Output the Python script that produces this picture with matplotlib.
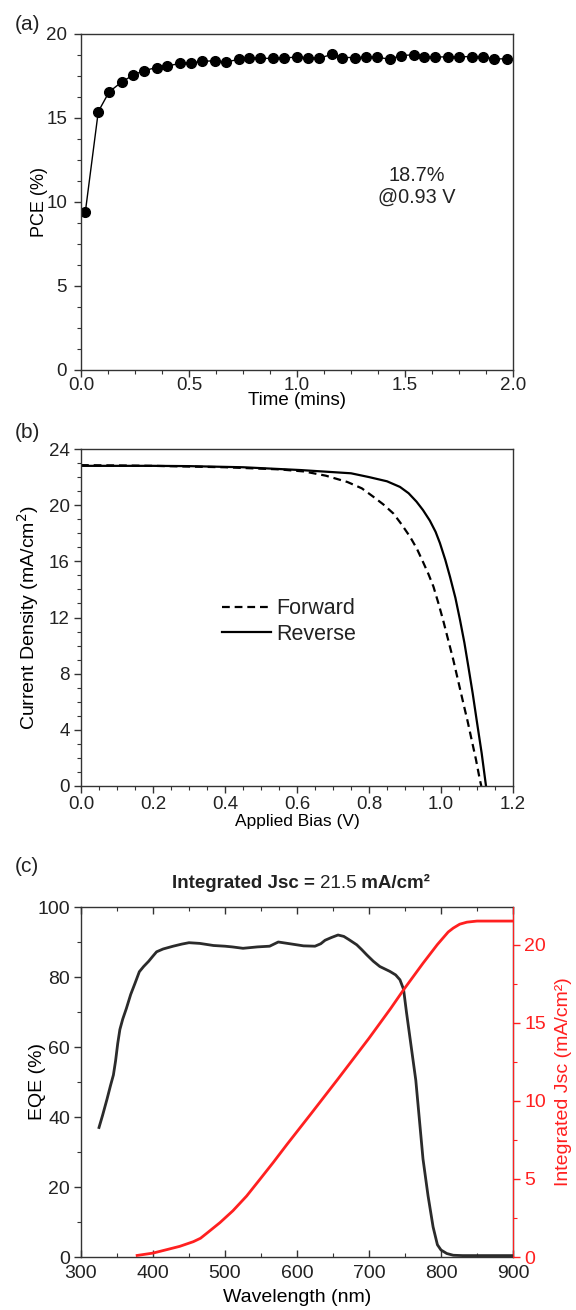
import matplotlib
matplotlib.use("Agg")
import matplotlib.pyplot as plt
from matplotlib.ticker import MultipleLocator
from matplotlib.offsetbox import TextArea, HPacker, AnchoredOffsetbox

plt.rcParams['font.family'] = ['Liberation Sans', 'DejaVu Sans']

# ---------------- data (a) ----------------
time_min = [0.02, 0.08, 0.13, 0.19, 0.24, 0.29, 0.35, 0.40, 0.46, 0.51,
            0.56, 0.62, 0.67, 0.73, 0.78, 0.83, 0.89, 0.94, 1.00, 1.05,
            1.10, 1.16, 1.21, 1.27, 1.32, 1.37, 1.43, 1.48, 1.54, 1.59,
            1.64, 1.70, 1.75, 1.81, 1.86, 1.91, 1.97]
pce = [9.4, 15.38, 16.55, 17.16, 17.54, 17.82, 18.0, 18.1, 18.25, 18.29,
       18.37, 18.41, 18.33, 18.49, 18.59, 18.55, 18.55, 18.57, 18.63, 18.6,
       18.55, 18.78, 18.6, 18.6, 18.62, 18.62, 18.5, 18.72, 18.76, 18.62,
       18.63, 18.64, 18.64, 18.66, 18.66, 18.52, 18.52]

# ---------------- data (b) ----------------
v_rev = [0.0, 0.1, 0.2, 0.3, 0.45, 0.61, 0.75, 0.80, 0.85, 0.886, 0.91,
         0.932, 0.95, 0.969, 0.985, 0.997, 1.012, 1.025, 1.04, 1.053, 1.065,
         1.076, 1.088, 1.099, 1.113, 1.125]
j_rev = [22.8, 22.8, 22.8, 22.78, 22.7, 22.5, 22.27, 22.0, 21.7, 21.3, 20.85,
         20.25, 19.65, 18.9, 18.1, 17.3, 16.1, 14.9, 13.4, 11.8, 10.2,
         8.5, 6.6, 4.7, 2.33, 0.0]
v_fwd = [0.0, 0.1, 0.2, 0.3, 0.4, 0.55, 0.62, 0.68, 0.74, 0.78, 0.812,
         0.84, 0.868, 0.89, 0.914, 0.933, 0.951, 0.965, 0.979, 0.993, 1.006,
         1.02, 1.034, 1.048, 1.062, 1.074, 1.085, 1.097, 1.108, 1.112]
j_fwd = [22.85, 22.83, 22.8, 22.75, 22.7, 22.55, 22.4, 22.1, 21.65, 21.2,
         20.6, 20.05, 19.4, 18.65, 17.75, 16.9, 15.9, 15.1, 14.2, 13.0,
         11.8, 10.4, 9.0, 7.45, 5.9, 4.6, 3.3, 1.9, 0.43, 0.0]

# ---------------- data (c) ----------------
wl_eqe = [325, 330, 336, 341, 345, 348, 351, 354, 358, 363, 369, 375, 381,
          387, 394, 400, 405, 414, 428, 440, 450, 465, 484, 500, 510, 525,
          545, 562, 574, 590, 609, 625, 633, 639, 648, 657, 665, 672, 683,
          690, 697, 706, 715, 729, 737, 743, 748, 752, 756, 760, 765, 771,
          775, 782, 789, 795, 800, 808, 817, 830, 900]
eqe = [37.0, 40.5, 45.0, 49.0, 52.0, 56.0, 61.0, 65.0, 68.0, 71.0, 75.0,
       78.2, 81.5, 83.0, 84.5, 86.0, 87.2, 88.0, 88.8, 89.4, 89.8, 89.6,
       89.0, 88.8, 88.6, 88.2, 88.6, 88.8, 90.0, 89.5, 88.9, 88.8, 89.5,
       90.5, 91.3, 92.0, 91.6, 90.7, 89.2, 87.8, 86.3, 84.5, 83.0, 81.6,
       80.6, 79.2, 76.5, 70.0, 64.0, 58.0, 50.5, 37.0, 28.0, 17.5, 8.6,
       3.5, 2.0, 1.0, 0.5, 0.4, 0.4]
wl_jsc = [378, 400, 419, 437, 456, 466, 475, 493, 511, 530, 549, 567, 586,
          620, 657, 700, 730, 748, 775, 795, 810, 817, 826, 836, 850, 900]
jsc_int = [0.1, 0.25, 0.47, 0.68, 0.98, 1.2, 1.53, 2.2, 2.96, 3.9, 5.0,
           6.05, 7.2, 9.2, 11.4, 14.0, 15.9, 17.1, 18.8, 20.0, 20.8, 21.05,
           21.3, 21.43, 21.5, 21.5]

W, H = 576, 1310
fig = plt.figure(figsize=(W / 100, H / 100), dpi=100)

def rect(l, t, r, b):
    return [l / W, 1 - b / H, (r - l) / W, (b - t) / H]

SPC = '#333333'
TXT = '#222222'
TFS = 13.5

def style(ax, ypad=3, xpad=2):
    for s in ax.spines.values():
        s.set_color(SPC)
        s.set_linewidth(1.0)
    ax.tick_params(which='both', direction='out', colors=SPC, labelcolor=TXT,
                   labelsize=TFS, top=False, right=False)
    ax.tick_params(axis='y', pad=ypad)
    ax.tick_params(axis='x', pad=xpad)
    ax.tick_params(which='major', length=5, width=1)
    ax.tick_params(which='minor', length=3, width=0.8)

# ---------------- panel (a) ----------------
axa = fig.add_axes(rect(81, 34, 513, 370))
axa.plot(time_min, pce, color='black', lw=1.0, marker='o', ms=7,
         mfc='black', mec='black')
axa.set_xlim(0, 2.0)
axa.set_ylim(0, 20)
axa.set_xticks([0, 0.5, 1.0, 1.5, 2.0])
axa.set_xticklabels(['0.0', '0.5', '1.0', '1.5', '2.0'])
axa.xaxis.set_minor_locator(MultipleLocator(0.125))
axa.yaxis.set_major_locator(MultipleLocator(5))
axa.yaxis.set_minor_locator(MultipleLocator(1.25))
style(axa, ypad=5, xpad=0)
axa.set_xlabel('Time (mins)', fontsize=13.5)
axa.xaxis.set_label_coords(0.5, -0.066)
axa.set_ylabel('PCE (%)', fontsize=13)
axa.yaxis.set_label_coords(-0.076, 0.5)
axa.text(0.778, 0.546, '18.7%\n@0.93 V', transform=axa.transAxes,
         ha='center', va='center', fontsize=14.3, linespacing=1.15, color=TXT)

# ---------------- panel (b) ----------------
axb = fig.add_axes(rect(81, 449, 513, 786))
axb.plot(v_fwd, j_fwd, color='black', lw=1.6, ls=(0, (3.5, 2.2)), label='Forward')
axb.plot(v_rev, j_rev, color='black', lw=1.6, ls='-', label='Reverse')
axb.set_xlim(0, 1.2)
axb.set_ylim(0, 24)
axb.set_xticks([0, 0.2, 0.4, 0.6, 0.8, 1.0, 1.2])
axb.set_xticklabels(['0.0', '0.2', '0.4', '0.6', '0.8', '1.0', '1.2'])
axb.xaxis.set_minor_locator(MultipleLocator(0.05))
axb.yaxis.set_major_locator(MultipleLocator(4))
axb.yaxis.set_minor_locator(MultipleLocator(1))
style(axb, ypad=3, xpad=2)
axb.set_xlabel('Applied Bias (V)', fontsize=12.5)
axb.xaxis.set_label_coords(0.5, -0.084)
axb.set_ylabel('Current Density (mA/cm$^2$)', fontsize=14)
axb.yaxis.set_label_coords(-0.093, 0.5)
leg = axb.legend(loc='center left', bbox_to_anchor=(0.326, 0.488), frameon=False,
                 fontsize=15.5, handlelength=2.3, handletextpad=0.25,
                 labelspacing=0.2, borderaxespad=0, borderpad=0)
for t in leg.get_texts():
    t.set_color(TXT)

# ---------------- panel (c) ----------------
axc = fig.add_axes(rect(81, 907, 513, 1257))
axc.plot(wl_eqe, eqe, color='#2b2b2b', lw=2.0)
axc.set_xlim(300, 900)
axc.set_ylim(0, 100)
axc.xaxis.set_major_locator(MultipleLocator(100))
axc.xaxis.set_minor_locator(MultipleLocator(50))
axc.yaxis.set_major_locator(MultipleLocator(20))
axc.yaxis.set_minor_locator(MultipleLocator(10))
style(axc, ypad=3, xpad=5.5)
axc.tick_params(axis='x', which='both', direction='in', top=True, bottom=True)
axc.tick_params(axis='both', labelsize=14)
axc.set_xlabel('Wavelength (nm)', fontsize=14)
axc.xaxis.set_label_coords(0.5, -0.092)
axc.set_ylabel('EQE (%)', fontsize=14)
axc.yaxis.set_label_coords(-0.081, 0.5)

red = '#ff2020'
axr = axc.twinx()
axr.plot(wl_jsc, jsc_int, color=red, lw=2.0)
axr.set_ylim(0, 22.4)
axr.yaxis.set_major_locator(MultipleLocator(5))
axr.yaxis.set_minor_locator(MultipleLocator(2.5))
axr.spines['right'].set_color(red)
for k in ('left', 'top', 'bottom'):
    axr.spines[k].set_visible(False)
axr.tick_params(axis='y', which='both', direction='out', colors=red,
                labelcolor=red, labelsize=14, pad=3)
axr.tick_params(axis='y', which='major', length=5, width=1)
axr.tick_params(axis='y', which='minor', length=3, width=0.8)
axr.set_ylabel('Integrated Jsc (mA/cm²)', fontsize=14, color=red)
axr.yaxis.set_label_coords(1.097, 0.5)

# title of (c)
t1 = TextArea('Integrated Jsc = ', textprops=dict(fontsize=13.5, fontweight='bold', color=TXT))
t2 = TextArea('21.5', textprops=dict(fontsize=13.5, color=TXT))
t3 = TextArea(' mA/cm²', textprops=dict(fontsize=13.5, fontweight='bold', color=TXT))
box = HPacker(children=[t1, t2, t3], align='baseline', pad=0, sep=0)
anch = AnchoredOffsetbox(loc='center', child=box, pad=0, frameon=False,
                         bbox_to_anchor=(301 / W, 1 - 883 / H),
                         bbox_transform=fig.transFigure, borderpad=0)
fig.add_artist(anch)

# panel labels
for lab, yy in (('(a)', 25), ('(b)', 432), ('(c)', 867)):
    fig.text(27 / W, 1 - yy / H, lab, fontsize=15, ha='center', va='center',
             color=TXT)

fig.savefig('out.png', dpi=100)
